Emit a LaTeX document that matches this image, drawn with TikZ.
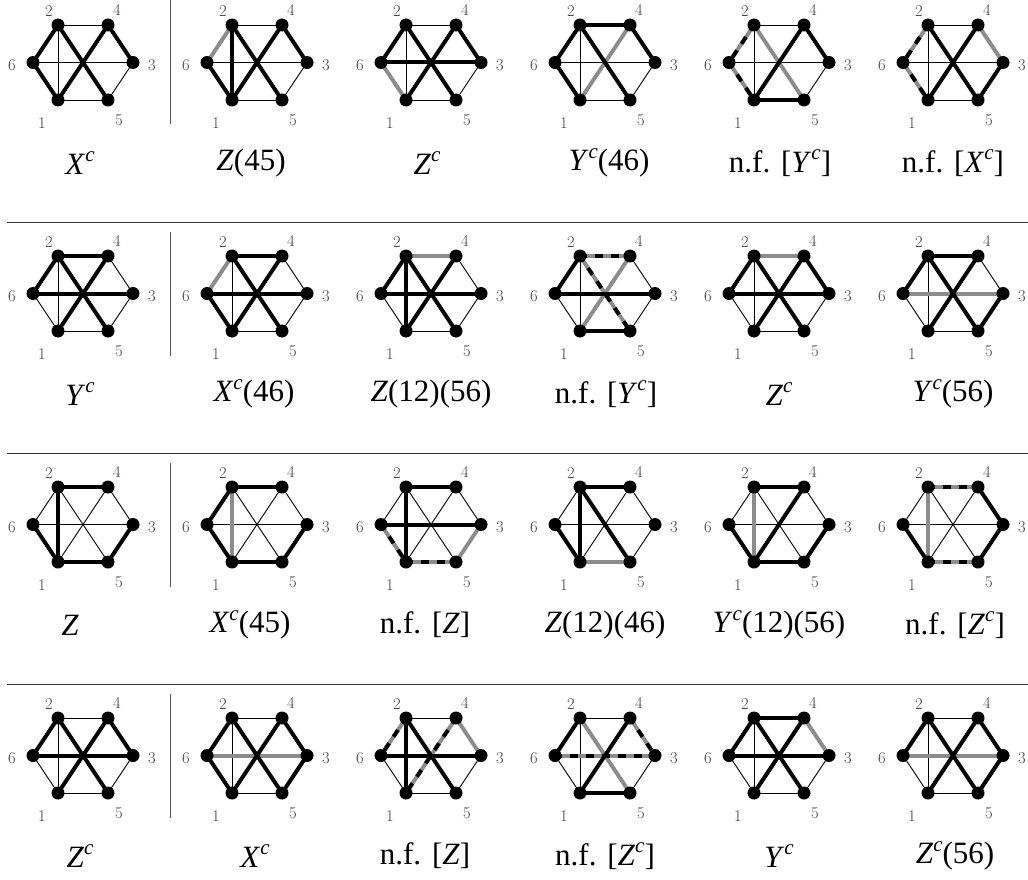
\documentclass[tikz,border=0pt]{standalone}
\usepackage{fontspec}
\newfontfamily\capfont{Liberation Serif}
\definecolor{edgegray}{HTML}{8C8C8C}
\definecolor{rulegray}{HTML}{555555}
\tikzset{
  tn/.style={line width=0.9pt, draw=black},
  gr/.style={line width=4pt, draw=edgegray},
  ds/.style={line width=4pt, draw=black, dash pattern=on 8pt off 8pt, dash phase=1.5pt,
     preaction={draw=edgegray, line width=4pt, solid}},
  tk/.style={line width=4pt, draw=black},
  vtx/.style={circle, fill=black, inner sep=0pt, minimum size=13pt},
  vlab/.style={font=\fontsize{16.5}{16.5}\selectfont, text=black!75, inner sep=0pt},
  captxt/.style={font=\capfont\fontsize{31}{31}\selectfont, inner sep=0pt},
  sepline/.style={draw=rulegray, line width=1pt},
}
\newcommand\ci[1]{\textit{#1}\raisebox{0.4em}{\fontsize{21}{21}\selectfont\textit{c}}}
\newcommand\nf{n.f.\hspace{0.35em}}
% #1 id, #2 cx, #3 cy, #4 thin, #5 gray, #6 dashed, #7 thick
\newcommand\hexgraph[7]{%
  \coordinate (#1-1) at (#2-25,#3+37.5);
  \coordinate (#1-2) at (#2-25,#3-37.5);
  \coordinate (#1-3) at (#2+50,#3);
  \coordinate (#1-4) at (#2+25,#3-37.5);
  \coordinate (#1-5) at (#2+25,#3+37.5);
  \coordinate (#1-6) at (#2-50,#3);
  \foreach \u/\v in {#4} {\draw[tn] (#1-\u) -- (#1-\v);}
  \if\relax\detokenize{#5}\relax\else
    \foreach \u/\v in {#5} {\draw[gr] (#1-\u) -- (#1-\v);}\fi
  \if\relax\detokenize{#6}\relax\else
    \foreach \u/\v in {#6} {\draw[ds] (#1-\u) -- (#1-\v);}\fi
  \foreach \u/\v in {#7} {\draw[tk] (#1-\u) -- (#1-\v);}
  \foreach \k in {1,...,6} {\node[vtx] (#1-d\k) at (#1-\k) {};}
  \node[vlab] (#1-l2) at (#2-34,#3-51) {2};
  \node[vlab] (#1-l4) at (#2+34,#3-53) {4};
  \node[vlab] (#1-l6) at (#2-71,#3+2.5) {6};
  \node[vlab] (#1-l3) at (#2+69,#3+2.5) {3};
  \node[vlab] (#1-l1) at (#2-41,#3+61) {1};
  \node[vlab] (#1-l5) at (#2+36,#3+57.5) {5};
}
\begin{document}
\begin{tikzpicture}[x=1pt,y=-1pt]
\useasboundingbox (0,0) rectangle (1028,880);
% ---------- row 1 ----------
\hexgraph{a1}{83}{62.5}{2/4,5/1,3/5,2/1,6/3}{}{}{6/2,6/1,4/3,2/5,4/1}
\hexgraph{a2}{257}{62.5}{2/4,5/1,3/5,6/3}{6/2}{}{2/1,6/1,4/3,2/5,4/1}
\hexgraph{a3}{431}{62.5}{2/4,5/1,3/5,2/1}{6/1}{}{6/2,6/3,4/3,2/5,4/1}
\hexgraph{a4}{605}{62.5}{5/1,3/5,2/1,6/3}{4/1}{}{2/4,6/2,6/1,4/3,2/5}
\hexgraph{a5}{779}{62.5}{2/4,3/5,2/1,6/3}{2/5}{2/6,6/1}{4/3,4/1,1/5}
\hexgraph{a6}{953}{62.5}{2/4,5/1,2/1,6/3}{4/3}{2/6,6/1}{3/5,2/5,4/1}
% ---------- row 2 ----------
\hexgraph{b1}{83}{293.5}{5/1,3/5,2/1,4/3,6/1}{}{}{2/4,6/2,6/3,2/5,4/1}
\hexgraph{b2}{257}{293.5}{5/1,3/5,2/1,4/3}{6/2}{}{2/4,6/1,6/3,2/5,4/1}
\hexgraph{b3}{431}{293.5}{5/1,3/5,4/3,6/1}{2/4}{}{6/2,2/1,6/3,2/5,4/1}
\hexgraph{b4}{605}{293.5}{3/5,2/1,4/3,6/1}{4/1}{2/4,2/5}{6/2,6/3,1/5}
\hexgraph{b5}{779}{293.5}{5/1,3/5,2/1,6/1}{2/4}{}{6/2,6/3,4/3,2/5,4/1}
\hexgraph{b6}{953}{293.5}{5/1,2/1,4/3,6/1}{6/3}{}{2/4,6/2,3/5,2/5,4/1}
% ---------- row 3 ----------
\hexgraph{c1}{83}{524.5}{2/6,6/3,2/5,4/1,4/3}{}{}{2/4,2/1,6/1,3/5,1/5}
\hexgraph{c2}{257}{524.5}{6/3,2/5,4/1,4/3}{2/1}{}{2/4,2/6,6/1,3/5,1/5}
\hexgraph{c3}{431}{524.5}{2/6,2/5,4/1,4/3}{3/5}{6/1,1/5}{2/4,2/1,6/3}
\hexgraph{c4}{605}{524.5}{2/6,6/3,4/1,4/3,3/5}{1/5}{}{2/4,2/1,2/5,6/1}
\hexgraph{c5}{779}{524.5}{2/6,6/3,2/5,4/3}{2/1}{}{2/4,4/1,6/1,3/5,1/5}
\hexgraph{c6}{953}{524.5}{2/6,6/3,2/5,4/1}{2/1}{2/4,1/5}{4/3,3/5,6/1}
% ---------- row 4 ----------
\hexgraph{d1}{83}{755.5}{2/4,2/1,6/1,3/5,1/5}{}{}{2/6,2/5,4/1,4/3,6/3}
\hexgraph{d2}{257}{755.5}{2/4,2/1,1/5}{6/3}{}{2/6,2/5,4/1,4/3,6/1,3/5}
\hexgraph{d3}{431}{755.5}{2/4,6/1,3/5,1/5}{4/3}{2/6,4/1}{2/1,2/5,6/3}
\hexgraph{d4}{605}{755.5}{2/4,2/1,6/1,3/5}{2/5}{4/3,6/3}{2/6,4/1,1/5}
\hexgraph{d5}{779}{755.5}{2/1,6/1,3/5,1/5}{4/3}{}{2/4,2/6,2/5,4/1,6/3}
\hexgraph{d6}{953}{755.5}{2/4,2/1,6/1,1/5}{6/3}{}{2/6,2/5,4/1,4/3,3/5}
% ---------- separators ----------
\foreach \r/\y in {1/62.5,2/293.5,3/524.5,4/755.5} {
  \coordinate (vs\r a) at (170.5,\y-62);
  \coordinate (vs\r b) at (170.5,\y+62);
  \draw[sepline] (vs\r a) -- (vs\r b);
}
\foreach \r/\y in {2/222.5,3/453.5,4/684.5} {
  \coordinate (hs\r a) at (7,\y);
  \coordinate (hs\r b) at (1028,\y);
  \draw[sepline, draw=black!80, line width=1.3pt] (hs\r a) -- (hs\r b);
}
% ---------- captions ----------
\node[captxt] (ka1) at (80,163) {\ci{X}};
\node[captxt] (ka2) at (251,163) {\textit{Z}(45)};
\node[captxt] (ka3) at (427,163) {\ci{Z}};
\node[captxt] (ka4) at (609,163) {\ci{Y}(46)};
\node[captxt] (ka5) at (780,163) {\nf[\ci{Y}]};
\node[captxt] (ka6) at (953,163) {\nf[\ci{X}]};
\node[captxt] (kb1) at (80,394) {\ci{Y}};
\node[captxt] (kb2) at (254,394) {\ci{X}(46)};
\node[captxt] (kb3) at (431,394) {\textit{Z}(12)(56)};
\node[captxt] (kb4) at (606,394) {\nf[\ci{Y}]};
\node[captxt] (kb5) at (779,394) {\ci{Z}};
\node[captxt] (kb6) at (953,394) {\ci{Y}(56)};
\node[captxt] (kc1) at (70,625) {\textit{Z}};
\node[captxt] (kc2) at (250,625) {\ci{X}(45)};
\node[captxt] (kc3) at (425,625) {\nf[\textit{Z}]};
\node[captxt] (kc4) at (605,625) {\textit{Z}(12)(46)};
\node[captxt] (kc5) at (779,625) {\ci{Y}(12)(56)};
\node[captxt] (kc6) at (955,625) {\nf[\ci{Z}]};
\node[captxt] (kd1) at (80,856) {\ci{Z}};
\node[captxt] (kd2) at (255,856) {\ci{X}};
\node[captxt] (kd3) at (425,856) {\nf[\textit{Z}]};
\node[captxt] (kd4) at (605,856) {\nf[\ci{Z}]};
\node[captxt] (kd5) at (779,856) {\ci{Y}};
\node[captxt] (kd6) at (955,856) {\ci{Z}(56)};
\end{tikzpicture}
\end{document}
